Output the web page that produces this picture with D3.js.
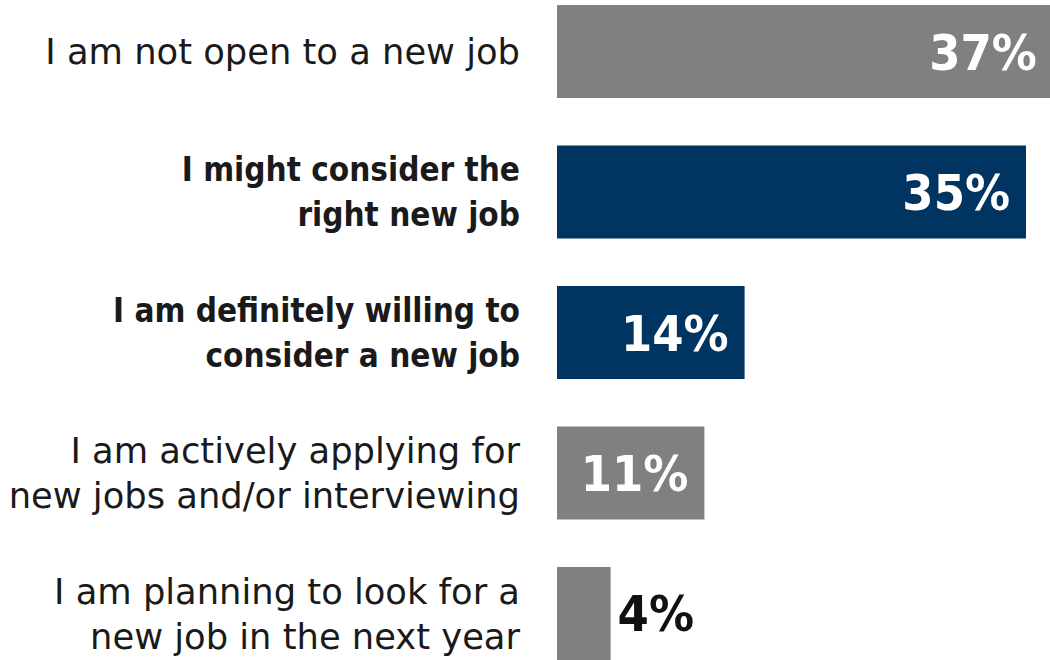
<!DOCTYPE html>
<html>
<head>
<meta charset="utf-8">
<script src="https://cdn.jsdelivr.net/npm/d3@7"></script>
<style>
  html, body { margin: 0; padding: 0; background: #ffffff; }
  svg { display: block; }
</style>
</head>
<body>
<svg id="chart" width="1050" height="660"></svg>
<script>
// Survey answers, one row per bar (label lines, value in %, highlighted or not)
const categories = [
  ["I am not open to a new job"],
  ["I might consider the", "right new job"],
  ["I am definitely willing to", "consider a new job"],
  ["I am actively applying for", "new jobs and/or interviewing"],
  ["I am planning to look for a", "new job in the next year"]
];
const values = [37, 35, 14, 11, 4];
const highlighted = [false, true, true, false, false];

const W = 1050, H = 660;
const barLeft = 557;
const labelRight = 520;
const FONT = "'DejaVu Sans', sans-serif";
const FONT_BOLD = "'DejaVu Sans Condensed', 'DejaVu Sans', sans-serif";

const svg = d3.select("#chart");

const ids = d3.range(values.length);

const x = d3.scaleLinear()
  .domain([0, 37])
  .range([barLeft, barLeft + 37 * 13.4]);

const y = d3.scaleBand()
  .domain(ids)
  .range([5, 660])
  .paddingInner(0.338)
  .paddingOuter(0);

const colorFor = i => highlighted[i] ? "#003461" : "#808080";

// Bars
svg.append("g")
  .selectAll("rect")
  .data(ids)
  .join("rect")
  .attr("x", x(0))
  .attr("y", i => y(i))
  .attr("width", i => x(values[i]) - x(0))
  .attr("height", y.bandwidth())
  .attr("fill", colorFor);

// Category labels, right-aligned left of the bars
const lineGap = 45;
const labels = svg.append("g")
  .selectAll("text")
  .data(ids)
  .join("text")
  .attr("text-anchor", "end")
  .attr("font-family", i => highlighted[i] ? FONT_BOLD : FONT)
  .attr("font-size", i => highlighted[i] ? 33 : 35.3)
  .attr("font-weight", i => highlighted[i] ? "bold" : "normal")
  .attr("fill", "#1a1a1a");

labels.each(function(i) {
  const lines = categories[i];
  const cy = y(i) + y.bandwidth() / 2;
  const first = cy - (lines.length - 1) * lineGap / 2;
  d3.select(this).selectAll("tspan")
    .data(lines)
    .join("tspan")
    .attr("x", labelRight)
    .attr("y", (d, k) => first + k * lineGap)
    .attr("dy", "0.36em")
    .text(d => d);
});

// Value labels: inside the bar when it is wide enough, otherwise just after it
const inside = i => values[i] >= 10;
svg.append("g")
  .selectAll("text")
  .data(ids)
  .join("text")
  .attr("x", i => inside(i) ? x(values[i]) - 16 : x(values[i]) + 7)
  .attr("y", i => y(i) + y.bandwidth() / 2)
  .attr("dy", "0.36em")
  .attr("text-anchor", i => inside(i) ? "end" : "start")
  .attr("font-family", FONT_BOLD)
  .attr("font-size", 50)
  .attr("font-weight", "bold")
  .attr("fill", i => inside(i) ? "#ffffff" : "#111111")
  .text(i => values[i] + "%");
</script>
</body>
</html>
